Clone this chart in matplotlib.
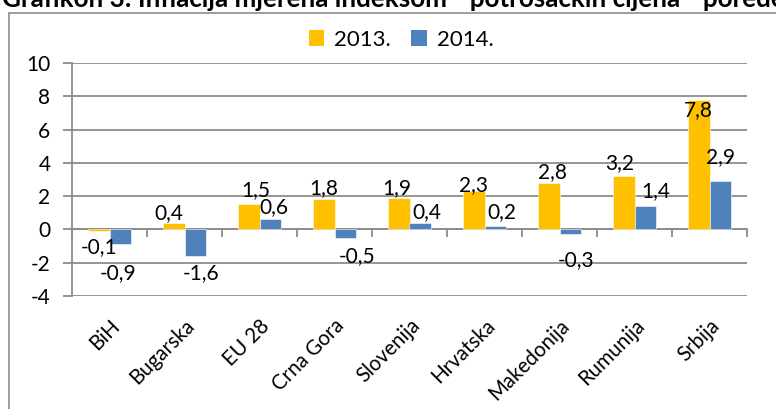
import matplotlib
matplotlib.use("Agg")
import matplotlib.pyplot as plt
import numpy as np
from matplotlib.patches import Rectangle, Patch

plt.rcParams['font.family'] = ['Lato', 'DejaVu Sans']

# ---- data ----
categories = ["BiH", "Bugarska", "EU 28", "Crna Gora", "Slovenija",
              "Hrvatska", "Makedonija", "Rumunija", "Srbija"]
values_2013 = [-0.1, 0.4, 1.5, 1.8, 1.9, 2.3, 2.8, 3.2, 7.8]
values_2014 = [-0.9, -1.6, 0.6, -0.5, 0.4, 0.2, -0.3, 1.4, 2.9]
series_names = ["2013.", "2014."]
yticks = [-4, -2, 0, 2, 4, 6, 8, 10]
title = "Grafikon 3: Inflacija mjerena indeksom  \u201cpotrošačkih cijena\u201d  poređenje"

# label offsets (pixels, dx right, dy down) – layout only
off_2013 = [(0, 16), (-5, -10), (7, -14), (0, -11), (-2, -10),
            (0, -6), (4, -11), (-4, -13), (0, 10)]
off_2014 = [(-2, 29), (6, 17), (4, -12), (12, 18), (7, -11),
            (7, -14), (6, 26), (10, -15), (0, -24)]

C13 = "#FFC000"
C14 = "#4F81BD"
GRID = "#8c8c8c"
FS = 15

W, H = 776, 409
fig = plt.figure(figsize=(W / 100, H / 100), dpi=100)
ax = fig.add_axes([72 / W, 1 - 296 / H, (747 - 72) / W, (296 - 63) / H])

x = np.arange(len(categories))
bw = 0.29
ax.bar(x - bw / 2, values_2013, bw, color=C13, edgecolor="white", linewidth=0.4, zorder=3)
ax.bar(x + bw / 2, values_2014, bw, color=C14, edgecolor="white", linewidth=0.4, zorder=3)

ax.set_xlim(-0.5, len(categories) - 0.5)
ax.set_ylim(min(yticks), max(yticks))
ax.set_yticks(yticks)
ax.set_yticklabels([str(t) for t in yticks])
ax.yaxis.grid(True, color=GRID, linewidth=1.3)
ax.set_axisbelow(True)

for s in ["top", "right"]:
    ax.spines[s].set_visible(False)
ax.spines["left"].set_color(GRID)
ax.spines["left"].set_linewidth(1.3)
ax.spines["bottom"].set_position(("data", 0))
ax.spines["bottom"].set_color(GRID)
ax.spines["bottom"].set_linewidth(1.3)

ax.tick_params(axis="y", length=6.5, width=1.3, color=GRID, pad=9, labelsize=FS)
ax.set_xticks(np.arange(-0.5, len(categories), 1))
ax.set_xticklabels([])
ax.tick_params(axis="x", which="major", length=5.8, width=1.3, color=GRID)
ax.set_xticks(x, minor=True)
ax.set_xticklabels(categories, minor=True, rotation=45, ha="right", va="top",
                   rotation_mode="anchor", fontsize=14.8)
ax.tick_params(axis="x", which="minor", length=0, pad=62)


def fmt(v):
    return str(v).replace(".", ",")


for i in range(len(categories)):
    for vals, offs, sh in ((values_2013, off_2013, -bw / 2), (values_2014, off_2014, bw / 2)):
        v = vals[i]
        dx, dy = offs[i]
        ax.annotate(fmt(v), xy=(x[i] + sh, v), xytext=(dx, -dy),
                    textcoords="offset pixels", ha="center", va="center",
                    fontsize=FS, zorder=5)

handles = [Patch(facecolor=C13, edgecolor="none"), Patch(facecolor=C14, edgecolor="none")]
fig.legend(handles, series_names, loc="center", bbox_to_anchor=(401 / W, 1 - 40 / H),
           ncol=2, frameon=False, fontsize=FS + 1, handlelength=0.7, handleheight=0.7,
           handletextpad=0.45, columnspacing=0.9)

# outer chart border (extends past the image on right / bottom)
fig.add_artist(Rectangle((8.5 / W, -0.05), 1.2, 1.05 - 12.7 / H,
                         transform=fig.transFigure, fill=False,
                         edgecolor=GRID, linewidth=1.2))

# clipped title at top
t = fig.text(2 / W, 1 - 7 / H, title, fontweight="bold", fontsize=15,
             ha="left", va="baseline")
fig.canvas.draw()
probe = fig.text(0, 0, "Grafikon 3: Inflacija mjerena indeksom", fontweight="bold", fontsize=15)
wpx = probe.get_window_extent(fig.canvas.get_renderer()).width
probe.remove()
t.set_fontsize(15 * 445 / wpx)

fig.savefig("out.png", dpi=100)
